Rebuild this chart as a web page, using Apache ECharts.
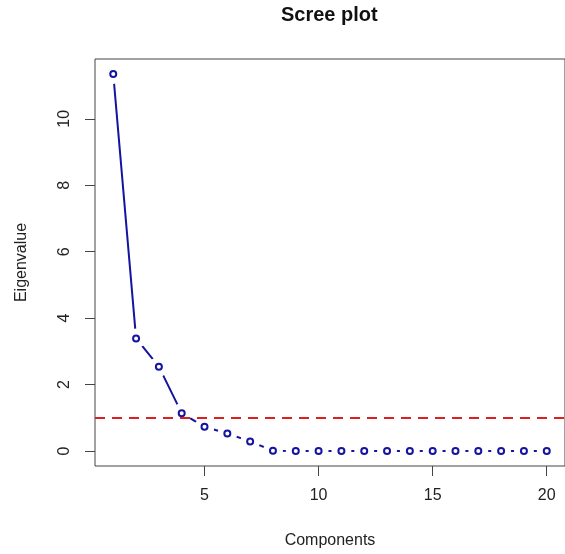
<!DOCTYPE html>
<html>
<head>
<meta charset="utf-8">
<title>Scree plot</title>
<script src="https://cdn.jsdelivr.net/npm/echarts@6/dist/echarts.min.js"></script>
<style>
  html, body { margin: 0; padding: 0; background: #fff; }
  #chart { width: 565px; height: 554px; }
</style>
</head>
<body>
<div id="chart"></div>
<script>
// eigenvalue per component
var components = [1, 2, 3, 4, 5, 6, 7, 8, 9, 10, 11, 12, 13, 14, 15, 16, 17, 18, 19, 20]
var eigenvalues = [11.35, 3.39, 2.54, 1.14, 0.73, 0.53, 0.29, 0.01, 0, 0, 0, 0, 0, 0, 0, 0, 0, 0, 0, 0]
var cutoff = 1
var xTicks = [5, 10, 15, 20]
var yTicks = [0, 2, 4, 6, 8, 10]

var FONT = "'Liberation Sans', Arial, sans-serif"
var BLUE = '#1414a0'

var points = components.map(function (c, i) { return [c, eigenvalues[i]] })

var chart = echarts.init(document.getElementById('chart'))

chart.setOption({
  animation: false,
  backgroundColor: '#fff',
  title: {
    text: 'Scree plot',
    left: 281,
    top: 5,
    padding: 0,
    textStyle: { fontFamily: FONT, fontSize: 20, fontWeight: 'bold', color: '#111' }
  },
  grid: {
    left: 95,
    top: 59,
    right: -1,
    bottom: 87,
    show: true,
    borderColor: '#444',
    borderWidth: 1,
    backgroundColor: 'transparent'
  },
  xAxis: {
    type: 'value',
    min: 0.2,
    max: 20.8,
    name: 'Components',
    nameLocation: 'middle',
    nameGap: 67,
    nameTextStyle: { fontFamily: FONT, fontSize: 16, color: '#222' },
    axisLine: { show: false, onZero: false },
    splitLine: { show: false },
    axisTick: { show: true, length: 10, customValues: xTicks, lineStyle: { color: '#444' } },
    axisLabel: { customValues: xTicks, margin: 22, fontFamily: FONT, fontSize: 16, color: '#222' }
  },
  yAxis: {
    type: 'value',
    min: -0.45,
    max: 11.8,
    name: 'Eigenvalue',
    nameLocation: 'middle',
    nameGap: 65,
    nameTextStyle: { fontFamily: FONT, fontSize: 16, color: '#222' },
    axisLine: { show: false, onZero: false },
    splitLine: { show: false },
    axisTick: { show: true, length: 10, customValues: yTicks, lineStyle: { color: '#444' } },
    axisLabel: { customValues: yTicks, rotate: 90, margin: 22, fontFamily: FONT, fontSize: 16, color: '#222' }
  },
  series: [
    {
      // connecting line
      type: 'line',
      data: points,
      z: 1,
      showSymbol: false,
      lineStyle: { color: BLUE, width: 2 },
      markLine: {
        silent: true,
        symbol: 'none',
        label: { show: false },
        lineStyle: { color: '#dd1f1f', width: 2, type: [10, 7] },
        data: [{ yAxis: cutoff }]
      }
    },
    {
      // white gap round each point, like R type = "b"
      type: 'scatter',
      data: points,
      z: 2,
      symbol: 'circle',
      symbolSize: 20,
      itemStyle: { color: '#fff', opacity: 1 },
      silent: true
    },
    {
      type: 'scatter',
      data: points,
      z: 3,
      symbol: 'circle',
      symbolSize: 6,
      itemStyle: { color: '#fff', borderColor: BLUE, borderWidth: 2, opacity: 1 }
    }
  ]
})
</script>
</body>
</html>
